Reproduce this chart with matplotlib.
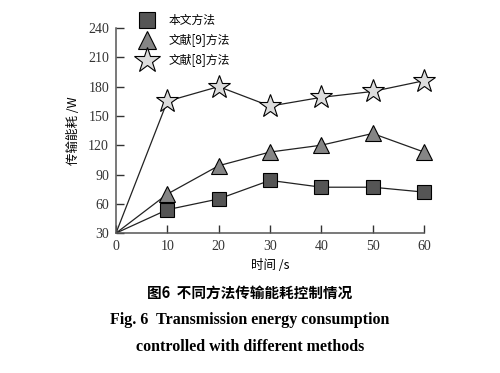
import matplotlib
matplotlib.use("Agg")
import matplotlib.pyplot as plt

plt.rcParams['font.family'] = ['Liberation Serif', 'Noto Sans CJK SC']

# 数据
t = [0, 10, 20, 30, 40, 50, 60]
ours = [30, 54, 65, 84, 77, 77, 72]
ref9 = [30, 70, 99, 113, 120, 132, 113]
ref8 = [30, 165, 180, 160, 169, 175, 186]
xticks = [0, 10, 20, 30, 40, 50, 60]
yticks = [30, 60, 90, 120, 150, 180, 210, 240]

fig = plt.figure(figsize=(5, 3.73), dpi=100)
ax = fig.add_axes([0.232, 0.375, 0.616, 0.55])

l1, = ax.plot(t[1:], ours[1:], 's', ms=10, mfc='#555555', mec='black', mew=0.8, ls='none', clip_on=False)
l2, = ax.plot(t[1:], ref9[1:], '^', ms=12, mfc='#858585', mec='black', mew=0.8, ls='none', clip_on=False)
l3, = ax.plot(t[1:], ref8[1:], '*', ms=17, mfc='#dcdcdc', mec='black', mew=0.8, ls='none', clip_on=False)
for s in (ours, ref9, ref8):
    ax.plot(t, s, '-', color='#222222', lw=0.9, zorder=1)

ax.set_xlim(0, 60)
ax.set_ylim(30, 240)
ax.set_xticks(xticks)
ax.set_yticks(yticks)
ax.tick_params(direction='in', length=6, width=1, colors='#333333', labelsize=10, pad=5)
for side in ('top', 'right'):
    ax.spines[side].set_visible(False)
for side in ('left', 'bottom'):
    ax.spines[side].set_color('#555555')
    ax.spines[side].set_linewidth(1.1)

ax.set_xlabel('时间 /s', fontsize=9, family=['Noto Sans CJK SC'], labelpad=4)
ax.set_ylabel('传输能耗 /W', fontsize=9, family=['Noto Sans CJK SC'], labelpad=6)

fig.legend([l1, l2, l3], ['本文方法', '文献[9]方法', '文献[8]方法'],
           loc='upper left', bbox_to_anchor=(0.255, 0.99), frameon=False,
           prop={'family': ['Noto Sans CJK SC'], 'size': 8.5},
           markerscale=1.12, handletextpad=1.1, labelspacing=0.6, handlelength=1.5)

fig.text(0.5, 0.215, '图6  不同方法传输能耗控制情况', ha='center', va='center',
         fontsize=10.5, fontweight='bold', family=['Noto Sans CJK SC'])
fig.text(0.5, 0.142, 'Fig. 6  Transmission energy consumption', ha='center', va='center',
         fontsize=11.5, fontweight='bold')
fig.text(0.5, 0.07, 'controlled with different methods', ha='center', va='center',
         fontsize=11.5, fontweight='bold')

fig.savefig('out.png', dpi=100)
